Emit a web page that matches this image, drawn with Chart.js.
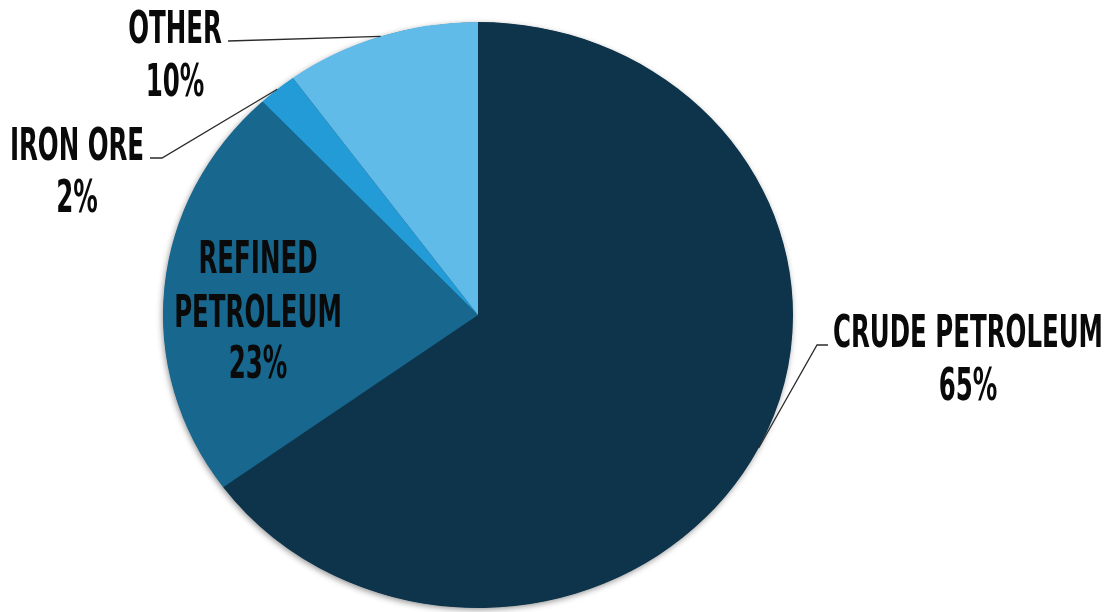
<!DOCTYPE html>
<html>
<head>
<meta charset="utf-8">
<script src="https://cdn.jsdelivr.net/npm/chart.js@4/dist/chart.umd.min.js"></script>
<style>
  html, body { margin: 0; padding: 0; background: #ffffff; }
  #wrap { width: 1115px; height: 612px; position: relative; }
</style>
</head>
<body>
<div id="wrap"><canvas id="c" width="1115" height="612"></canvas></div>
<script>
// Export shares by product
const categories = ['CRUDE PETROLEUM', 'REFINED PETROLEUM', 'IRON ORE', 'OTHER'];
const shares = [65, 23, 2, 10];
const sliceColors = ['#0e344b', '#17678f', '#229bd7', '#60bbe9'];

// How each label is split into lines when drawn
const labelLines = [['CRUDE PETROLEUM'], ['REFINED', 'PETROLEUM'], ['IRON ORE'], ['OTHER']];

// Label placement: text centre x, line baselines, leader path from text toward the slice
const labelPlacement = [
  { x: 968, baselines: [347, 400], leader: [[828, 345], [817, 345]] },
  { x: 258, baselines: [273, 327, 378], leader: null },
  { x: 77,  baselines: [160, 212], leader: [[150, 158], [162, 158]] },
  { x: 175, baselines: [43, 96],   leader: [[228, 41]] }
];

const STRETCH_X = 315 / 293;   // pie is drawn slightly wider than tall
const LABEL_FONT = 'bold 45px "Liberation Sans Narrow", "DejaVu Sans Condensed", "Liberation Sans", sans-serif';
const LABEL_WIDTH_REF = 270;   // width of the widest label line

// Stretch the pie horizontally and give it a soft drop shadow
const stretchPlugin = {
  id: 'stretchPie',
  beforeDatasetsDraw(chart) {
    const meta = chart.getDatasetMeta(0);
    const a = meta.data[0];
    const ctx = chart.ctx;
    ctx.save();
    ctx.translate(a.x, a.y);
    ctx.scale(STRETCH_X, 1);
    ctx.translate(-a.x, -a.y);
    // shadow disc beneath the slices
    ctx.save();
    ctx.shadowColor = 'rgba(0,0,0,0.45)';
    ctx.shadowBlur = 6;
    ctx.shadowOffsetX = -1;
    ctx.shadowOffsetY = 2;
    ctx.fillStyle = sliceColors[0];
    ctx.beginPath();
    ctx.arc(a.x, a.y, a.outerRadius - 0.5, 0, Math.PI * 2);
    ctx.fill();
    ctx.restore();
  },
  afterDatasetsDraw(chart) {
    chart.ctx.restore();
  }
};

// Category names, percentages and leader lines
const labelPlugin = {
  id: 'pieLabels',
  afterDraw(chart) {
    const ctx = chart.ctx;
    const meta = chart.getDatasetMeta(0);
    ctx.save();
    ctx.font = LABEL_FONT;
    const k = LABEL_WIDTH_REF / ctx.measureText('CRUDE PETROLEUM').width;
    meta.data.forEach((arc, i) => {
      const place = labelPlacement[i];
      if (place.leader) {
        const mid = (arc.startAngle + arc.endAngle) / 2;
        const ex = arc.x + STRETCH_X * arc.outerRadius * Math.cos(mid);
        const ey = arc.y + arc.outerRadius * Math.sin(mid);
        ctx.strokeStyle = '#2b2b2b';
        ctx.lineWidth = 1.3;
        ctx.beginPath();
        place.leader.forEach((p, j) => j === 0 ? ctx.moveTo(p[0], p[1]) : ctx.lineTo(p[0], p[1]));
        ctx.lineTo(ex, ey);
        ctx.stroke();
      }
      const lines = labelLines[i].concat([shares[i] + '%']);
      ctx.fillStyle = '#0a0a0a';
      ctx.textAlign = 'center';
      ctx.textBaseline = 'alphabetic';
      lines.forEach((t, j) => {
        ctx.save();
        ctx.translate(place.x, place.baselines[j]);
        ctx.scale(k, 1);
        ctx.fillText(t, 0, 0);
        ctx.restore();
      });
    });
    ctx.restore();
  }
};

new Chart(document.getElementById('c'), {
  type: 'pie',
  data: {
    labels: categories,
    datasets: [{
      data: shares,
      backgroundColor: sliceColors,
      borderWidth: 0,
      hoverOffset: 0
    }]
  },
  options: {
    responsive: false,
    devicePixelRatio: 1,
    animation: false,
    layout: { padding: { top: 22, bottom: 4, left: 100, right: 259 } },
    plugins: {
      legend: { display: false },
      tooltip: { enabled: false }
    },
    events: []
  },
  plugins: [stretchPlugin, labelPlugin]
});
</script>
</body>
</html>
